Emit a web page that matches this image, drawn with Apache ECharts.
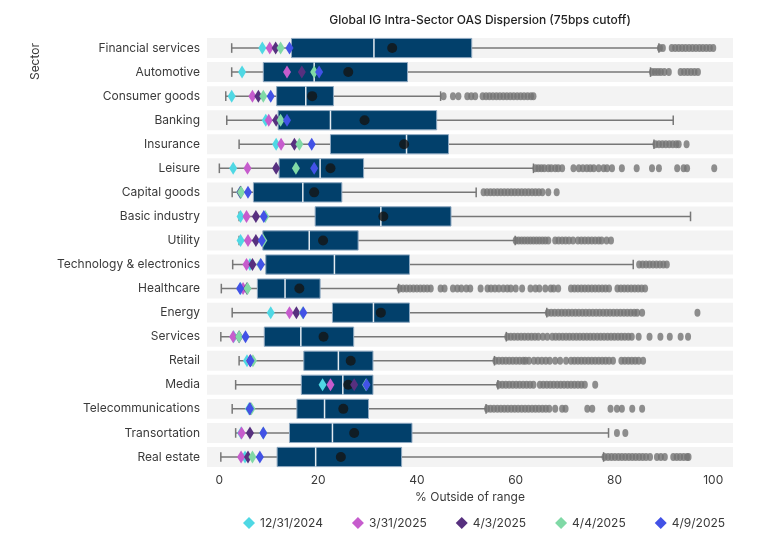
<!DOCTYPE html>
<html>
<head>
<meta charset="utf-8">
<script src="https://cdn.jsdelivr.net/npm/echarts@6/dist/echarts.min.js"></script>
<style>
  html, body { margin: 0; padding: 0; background: #fff; }
  #chart { width: 770px; height: 539px; }
</style>
</head>
<body>
<div id="chart"></div>
<script>
const sectors = [
  "Financial services", "Automotive", "Consumer goods", "Banking", "Insurance",
  "Leisure", "Capital goods", "Basic industry", "Utility", "Technology & electronics",
  "Healthcare", "Energy", "Services", "Retail", "Media", "Telecommunications",
  "Transortation", "Real estate"
];

// box stats, % outside of range
const whiskerLow  = [2.5, 2.5, 1.3, 1.5, 4.0, 0.0, 2.6, 4.0, 4.0, 2.7, 0.4, 2.6, 0.3, 4.0, 3.3, 2.6, 3.3, 0.3];
const q1          = [14.6, 8.9, 11.6, 11.9, 22.5, 12.1, 6.9, 19.4, 8.8, 9.4, 7.7, 22.9, 9.1, 17.1, 16.6, 15.7, 14.2, 11.7];
const median      = [31.3, 19.2, 17.5, 22.5, 37.9, 20.4, 16.9, 32.7, 18.2, 23.3, 13.3, 31.2, 16.5, 24.1, 25.0, 21.3, 22.9, 19.5];
const q3          = [51.1, 38.1, 23.1, 44.0, 46.4, 29.2, 24.8, 46.9, 28.1, 38.5, 20.4, 38.5, 27.2, 31.1, 31.1, 30.2, 39.0, 36.9];
const whiskerHigh = [89.0, 87.3, 44.8, 91.9, 88.0, 63.6, 52.0, 95.4, 59.9, 83.8, 36.3, 66.3, 58.1, 55.7, 56.4, 54.0, 78.8, 77.8];
const means       = [35.0, 26.1, 18.8, 29.4, 37.4, 22.5, 19.2, 33.2, 21.0, null, 16.2, 32.7, 21.1, 26.6, 26.1, 25.1, 27.3, 24.6];

// snapshot values per date
const dec31 = [8.7, 4.6, 2.5, 9.4, 11.5, 2.8, 4.2, 4.3, 4.3, 6.2, 4.3, 10.4, 2.9, 5.6, 20.9, 6.0, 4.4, 5.2];
const mar31 = [10.2, 13.7, 6.7, 10.0, 12.5, 5.7, 4.3, 5.5, 5.8, 5.5, 4.8, 14.2, 2.8, 6.2, 22.5, 6.2, 4.5, 4.4];
const apr3  = [11.4, 16.7, 7.9, 11.5, 15.2, 11.5, 4.3, 7.4, 7.4, 6.7, 5.6, 15.6, 4.0, 6.3, 27.3, 6.2, 6.2, 5.8];
const apr4  = [12.4, 19.2, 8.9, 12.4, 16.2, 15.5, 4.4, 9.3, 8.9, 8.3, 5.7, 16.9, 4.0, 6.8, 29.7, 6.5, 8.9, 6.7];
const apr9  = [14.2, 20.2, 10.4, 13.7, 18.7, 19.2, 5.8, 9.0, 8.6, 8.4, 4.2, 17.0, 5.3, 6.3, 29.8, 6.2, 8.9, 8.2];

const dateNames = ["12/31/2024", "3/31/2025", "4/3/2025", "4/4/2025", "4/9/2025"];
const dateColors = ["#4fd8e4", "#c65ccd", "#57307f", "#80d9a6", "#4252e6"];

// outliers beyond the whiskers, one list per sector
const outliers = [
  [89.2, 89.8, 91.6, 92.3, 93.0, 93.7, 94.4, 95.1, 95.8, 96.5, 97.2, 97.9, 98.6, 99.3, 100.0],
  [87.6, 88.2, 88.8, 89.4, 90.1, 91.0, 93.4, 94.1, 94.8, 95.5, 96.2, 96.9],
  [45.4, 47.3, 48.4, 50.2, 51.0, 51.8, 53.3, 54.0, 54.7, 55.4, 56.1, 56.8, 57.5, 58.2, 58.9, 59.6, 60.3, 61.0, 61.7, 62.4, 63.1, 63.6],
  [],
  [88.3, 89.0, 89.7, 90.4, 91.1, 91.8, 92.5, 93.0, 94.6],
  [64.0, 64.6, 65.2, 65.8, 66.6, 67.2, 68.0, 68.6, 69.4, 71.7, 72.8, 73.6, 74.4, 75.1, 75.8, 76.8, 77.8, 78.5, 79.5, 81.5, 84.5, 87.6, 89.0, 92.7, 94.0, 94.7, 100.2],
  [53.5, 54.2, 54.9, 55.6, 56.3, 57.0, 57.7, 58.4, 59.1, 59.8, 60.5, 61.2, 61.9, 62.6, 63.3, 64.0, 64.7, 65.4, 66.6, 68.3],
  [],
  [60.0, 60.6, 61.2, 61.8, 62.4, 63.0, 63.6, 64.2, 64.8, 65.4, 66.0, 66.6, 68.0, 68.7, 69.4, 70.1, 70.8, 71.6, 72.6, 73.3, 74.0, 74.7, 75.4, 76.1, 76.8, 77.4, 78.4, 79.3],
  [85.0, 85.7, 86.4, 87.1, 87.8, 88.5, 89.2, 89.9, 90.6],
  [36.5, 37.2, 37.9, 38.6, 39.3, 40.0, 40.7, 41.4, 42.1, 42.8, 44.8, 45.6, 47.3, 48.2, 49.0, 50.0, 50.8, 52.9, 54.3, 55.0, 55.8, 56.6, 57.5, 58.3, 59.0, 60.0, 61.3, 63.0, 64.0, 64.8, 66.0, 67.1, 67.7, 68.6, 71.2, 71.9, 72.6, 73.3, 74.0, 74.7, 75.4, 76.1, 76.8, 77.5, 78.2, 78.9, 80.6, 81.3, 82.0, 82.7, 83.4, 84.1, 84.8, 85.5, 86.2],
  [66.5, 67.2, 67.9, 68.6, 69.3, 70.0, 70.7, 71.4, 72.1, 72.8, 73.5, 74.2, 74.9, 75.6, 76.3, 77.0, 77.7, 78.4, 79.1, 79.8, 80.5, 81.2, 81.9, 82.6, 83.3, 84.0, 84.6, 85.6, 96.8],
  [58.3, 59.0, 59.7, 60.4, 61.1, 61.8, 62.5, 63.2, 63.9, 64.6, 65.5, 66.4, 67.4, 68.1, 68.8, 69.5, 70.2, 70.9, 71.6, 72.3, 73.0, 73.7, 74.4, 75.1, 75.8, 76.5, 77.2, 77.9, 78.6, 79.3, 80.0, 80.7, 81.4, 82.1, 82.8, 83.5, 84.9, 87.1, 89.3, 91.2, 93.4, 94.9],
  [55.9, 56.6, 57.3, 58.0, 58.7, 59.4, 60.1, 60.8, 61.5, 62.0, 62.7, 63.7, 64.5, 65.3, 66.1, 66.9, 68.0, 69.0, 70.2, 71.2, 71.9, 72.6, 73.3, 74.0, 74.7, 75.4, 76.1, 76.8, 77.5, 78.2, 78.9, 79.7, 81.4, 82.1, 82.8, 83.5, 84.2, 84.9, 85.8],
  [56.6, 57.3, 58.0, 58.7, 59.4, 60.1, 60.8, 61.5, 62.2, 62.9, 63.6, 64.9, 65.6, 66.3, 67.0, 67.7, 68.4, 69.1, 69.8, 70.5, 71.2, 71.9, 72.6, 73.3, 74.0, 76.1],
  [54.2, 54.9, 55.6, 56.3, 57.0, 57.7, 58.4, 59.1, 59.8, 60.5, 61.2, 61.9, 62.6, 63.3, 64.0, 64.7, 65.4, 66.1, 66.8, 68.0, 69.4, 70.1, 74.5, 75.5, 79.2, 80.5, 81.5, 83.6, 85.6],
  [80.5, 82.2],
  [78.0, 78.7, 79.4, 80.1, 80.8, 81.5, 82.2, 82.9, 83.6, 84.3, 85.0, 85.7, 86.4, 87.2, 88.6, 89.4, 90.2, 91.9, 92.6, 93.3, 94.0, 94.7, 95.0]
];

const xTicks = [0, 20, 40, 60, 80, 100];

const FONT = "Inter";
const TEXT = "#3a3a3a";
const BOX_FILL = "#02406b";
const BOX_EDGE = "#8ea8c1";
const MEDIAN_COLOR = "#e4ebf1";
const WHISKER = "#777777";

const chart = echarts.init(document.getElementById("chart"));

const bandData = sectors.map((s, i) => [0, i]);
const boxData = sectors.map((s, i) => [i, whiskerLow[i], q1[i], median[i], q3[i], whiskerHigh[i]]);
const outlierData = [];
outliers.forEach((list, i) => list.forEach((v) => outlierData.push([v, i])));
const meanData = [];
means.forEach((v, i) => { if (v != null) meanData.push([v, i]); });

const dateSeries = [dec31, mar31, apr3, apr4, apr9].map((vals, k) => ({
  name: dateNames[k],
  type: "scatter",
  symbol: "diamond",
  symbolSize: [8, 13],
  itemStyle: { color: dateColors[k], opacity: 1 },
  z: 6,
  data: vals.map((v, i) => [v, i])
}));

chart.setOption({
  animation: false,
  textStyle: { fontFamily: FONT },
  title: {
    text: "Global IG Intra-Sector OAS Dispersion (75bps cutoff)",
    left: 475,
    top: 9,
    textAlign: "center",
    textStyle: { fontFamily: FONT, fontSize: 12, fontWeight: 500, color: "#222" }
  },
  grid: { left: 207, right: 37, top: 36, bottom: 70, outerBoundsMode: "none" },
  legend: {
    data: dateNames,
    bottom: 5,
    left: 238,
    icon: "diamond",
    itemWidth: 12,
    itemHeight: 12,
    itemGap: 29,
    textStyle: { fontFamily: FONT, fontSize: 12, color: TEXT }
  },
  graphic: [{
    type: "text",
    left: 29,
    top: 43,
    rotation: Math.PI / 2,
    style: { text: "Sector", fontFamily: FONT, fontSize: 12, fill: TEXT }
  }],
  xAxis: {
    type: "value",
    min: -2.5,
    max: 104,
    name: "% Outside of range",
    nameLocation: "middle",
    nameGap: 21,
    nameTextStyle: { fontFamily: FONT, fontSize: 12, color: TEXT },
    axisLine: { show: false },
    axisTick: { show: false },
    splitLine: { show: false },
    axisLabel: {
      customValues: xTicks,
      margin: 5,
      fontFamily: FONT,
      fontSize: 12,
      color: TEXT
    }
  },
  yAxis: {
    type: "category",
    data: sectors,
    inverse: true,
    axisLine: { show: false },
    axisTick: { show: false },
    splitLine: { show: false },
    axisLabel: { margin: 7, fontFamily: FONT, fontSize: 12, color: TEXT }
  },
  series: [
    {
      // row background bands
      type: "custom",
      silent: true,
      z: 0,
      encode: { x: 0, y: 1 },
      data: bandData,
      renderItem: function (params, api) {
        const p = api.coord([0, api.value(1)]);
        const h = api.size([0, 1])[1] * 0.83;
        const cs = params.coordSys;
        return {
          type: "rect",
          shape: { x: cs.x, y: p[1] - h / 2, width: cs.width, height: h },
          style: { fill: "#f3f3f3" }
        };
      }
    },
    {
      // whiskers, boxes and medians
      type: "custom",
      z: 2,
      encode: { x: [1, 2, 3, 4, 5], y: 0 },
      data: boxData,
      renderItem: function (params, api) {
        const idx = api.value(0);
        const lo = api.coord([api.value(1), idx]);
        const a = api.coord([api.value(2), idx]);
        const m = api.coord([api.value(3), idx]);
        const b = api.coord([api.value(4), idx]);
        const hi = api.coord([api.value(5), idx]);
        const h = api.size([0, 1])[1] * 0.8;
        const cy = lo[1];
        const cap = h / 4;
        const wStyle = { stroke: WHISKER, lineWidth: 1.5 };
        return {
          type: "group",
          children: [
            { type: "line", shape: { x1: lo[0], y1: cy, x2: hi[0], y2: cy }, style: wStyle },
            { type: "line", shape: { x1: lo[0], y1: cy - cap, x2: lo[0], y2: cy + cap }, style: wStyle },
            { type: "line", shape: { x1: hi[0], y1: cy - cap, x2: hi[0], y2: cy + cap }, style: wStyle },
            {
              type: "rect",
              shape: { x: a[0], y: cy - h / 2, width: b[0] - a[0], height: h },
              style: { fill: BOX_FILL, stroke: BOX_EDGE, lineWidth: 1 }
            },
            {
              type: "line",
              shape: { x1: m[0], y1: cy - h / 2, x2: m[0], y2: cy + h / 2 },
              style: { stroke: MEDIAN_COLOR, lineWidth: 1.5 }
            }
          ]
        };
      }
    },
    {
      name: "outliers",
      type: "scatter",
      symbol: "circle",
      symbolSize: [6, 8],
      itemStyle: { color: "#737373" },
      z: 3,
      data: outlierData
    },
    {
      name: "mean",
      type: "scatter",
      symbol: "circle",
      symbolSize: 10,
      itemStyle: { color: "#141414" },
      z: 4,
      data: meanData
    },
    ...dateSeries
  ]
});
</script>
</body>
</html>
